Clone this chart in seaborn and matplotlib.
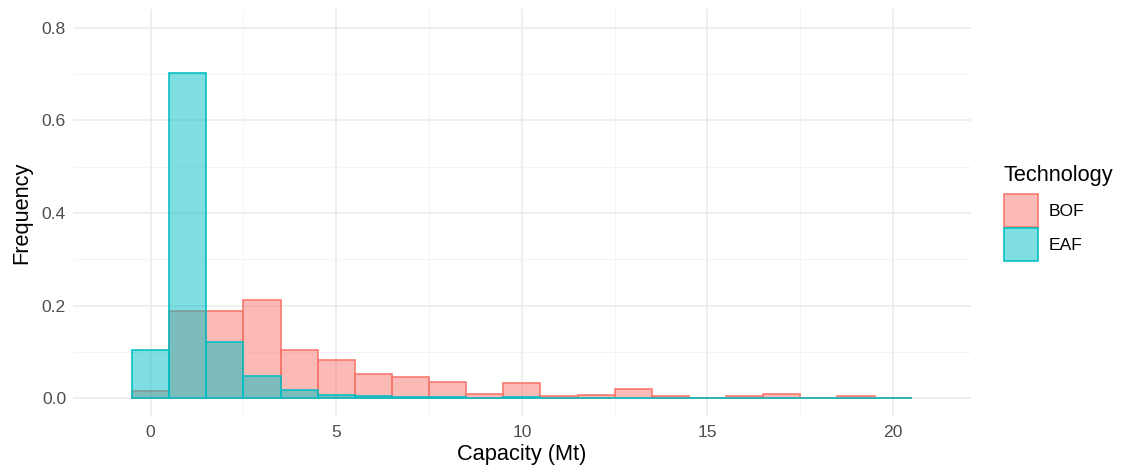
import numpy as np
import pandas as pd
import matplotlib
matplotlib.use("Agg")
import matplotlib.pyplot as plt
from matplotlib.patches import Patch
from matplotlib.colors import to_rgba
from matplotlib.ticker import MultipleLocator
import seaborn as sns

# Relative frequency of plant capacity per 1 Mt bin (bin centres 0..20)
bin_centers = list(range(0, 21))
bof_freq = [0.016, 0.189, 0.188, 0.212, 0.105, 0.083, 0.053, 0.045, 0.036, 0.010,
            0.033, 0.004, 0.006, 0.019, 0.004, 0.000, 0.004, 0.009, 0.000, 0.004, 0.000]
eaf_freq = [0.105, 0.702, 0.121, 0.047, 0.017, 0.007, 0.005, 0.002, 0.002, 0.001,
            0.003, 0.001, 0.001, 0.001, 0.001, 0.000, 0.000, 0.000, 0.000, 0.000, 0.000]
technologies = ["BOF", "EAF"]
colors = {"BOF": "#F8766D", "EAF": "#00BFC4"}

df = pd.concat([
    pd.DataFrame({"capacity": bin_centers, "freq": bof_freq, "Technology": "BOF"}),
    pd.DataFrame({"capacity": bin_centers, "freq": eaf_freq, "Technology": "EAF"}),
], ignore_index=True)

sns.set_theme(style="white")
plt.rcParams["font.family"] = ["Liberation Sans", "DejaVu Sans"]

fig = plt.figure(figsize=(11.23, 4.74), dpi=100)
ax = fig.add_axes([73 / 1123, 1 - 416.7 / 474, (970.7 - 73) / 1123, (416.7 - 9.3) / 474])

for tech in technologies:
    sub = df[df["Technology"] == tech]
    n_before = len(ax.patches)
    sns.histplot(data=sub, x="capacity", weights="freq", binwidth=1.0,
                 binrange=(-0.5, 20.5), stat="count",
                 color=colors[tech], ax=ax, zorder=3)
    for p in ax.patches[n_before:]:
        p.set_alpha(None)
        p.set_facecolor(to_rgba(colors[tech], 0.5))
        p.set_edgecolor(colors[tech])
        p.set_linewidth(1.15)

ax.set_xlim(-2.09, 22.09)
ax.set_ylim(-0.04, 0.84)
ax.xaxis.set_major_locator(MultipleLocator(5))
ax.xaxis.set_minor_locator(MultipleLocator(2.5))
ax.yaxis.set_major_locator(MultipleLocator(0.2))
ax.yaxis.set_minor_locator(MultipleLocator(0.1))
ax.set_yticks([0.0, 0.2, 0.4, 0.6, 0.8])
ax.set_yticklabels(["0.0", "0.2", "0.4", "0.6", "0.8"])

ax.grid(which="major", color="#EBEBEB", linewidth=1.15, zorder=0)
ax.grid(which="minor", color="#F2F2F2", linewidth=0.6, zorder=0)
ax.set_axisbelow(True)
for s in ax.spines.values():
    s.set_visible(False)

ax.tick_params(axis="both", which="both", length=0, labelsize=12.6, labelcolor="#4D4D4D")
ax.tick_params(axis="x", pad=6)
ax.tick_params(axis="y", pad=5)
ax.set_xlabel("Capacity (Mt)", fontsize=15.7, color="black", labelpad=3)
ax.set_ylabel("Frequency", fontsize=15.7, color="black", labelpad=7)

handles = [Patch(facecolor=to_rgba(colors[t], 0.5), edgecolor=colors[t], linewidth=1.15, label=t)
           for t in technologies]
leg = fig.legend(handles=handles, title="Technology", loc="upper left",
                 bbox_to_anchor=(1000 / 1123, 1 - 161 / 474), frameon=False,
                 fontsize=12.6, title_fontsize=15.7, handlelength=1.95, handleheight=2.55,
                 labelspacing=0.05, handletextpad=0.65, borderaxespad=0,
                 borderpad=0.2)
leg._legend_box.align = "left"
leg._legend_box.sep = 6.0
leg.get_title().set_color("black")
for t in leg.get_texts():
    t.set_color("black")

fig.savefig("out.png", dpi=100)
